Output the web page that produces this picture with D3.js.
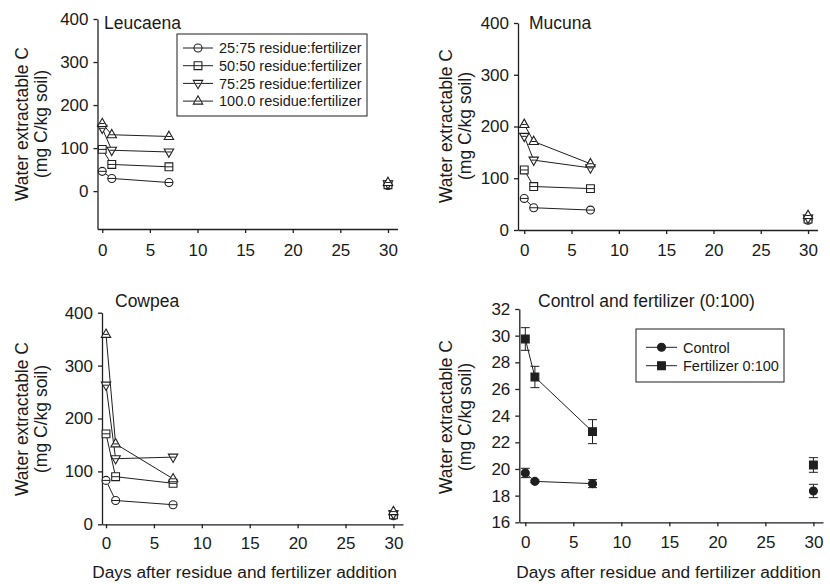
<!DOCTYPE html>
<html>
<head>
<meta charset="utf-8">
<script src="https://cdn.jsdelivr.net/npm/d3@7"></script>
<style>
  html, body { margin: 0; padding: 0; background: #fff; }
  svg text { font-family: "Liberation Sans", Arial, Helvetica, sans-serif; fill: #1a1a1a; }
</style>
</head>
<body>
<script>
// Sampling days
const days = [0, 1, 7, 30];
const dayTicks = [0, 5, 10, 15, 20, 25, 30];

// Residue:fertilizer treatments
const ratioLabels = [
  "25:75 residue:fertilizer",
  "50:50 residue:fertilizer",
  "75:25 residue:fertilizer",
  "100.0 residue:fertilizer"
];
const ratioSymbols = ["circle", "square", "triangleDown", "triangleUp"];

// Water extractable C (mg C/kg soil), Leucaena
const leucaena25 = [46, 29.5, 20, 13];
const leucaena50 = [97, 62, 56.5, 15];
const leucaena75 = [146, 95, 91, 17];
const leucaena100 = [157, 131, 127, 20];

// Mucuna
const mucuna25 = [61, 43, 38.5, 19];
const mucuna50 = [116, 84, 80, 21];
const mucuna75 = [181, 135, 120, 23];
const mucuna100 = [204, 171, 128, 28];

// Cowpea
const cowpea25 = [83, 45, 37, 16];
const cowpea50 = [171, 90, 77.5, 18];
const cowpea75 = [263, 124, 127, 20];
const cowpea100 = [359, 152, 86, 24];

// Control and fertilizer only (0:100), mean and standard error
const controlLabels = ["Control", "Fertilizer 0:100"];
const controlMean = [19.7, 19.07, 18.9, 18.35];
const controlErr = [0.35, 0.1, 0.3, 0.5];
const fertMean = [29.75, 26.9, 22.8, 20.3];
const fertErr = [0.85, 0.8, 0.9, 0.55];

const yTicksResidue = [0, 100, 200, 300, 400];
const yTicksControl = [16, 18, 20, 22, 24, 26, 28, 30, 32];

const INK = "#1f1f1f";

const svg = d3.select("body").append("svg")
  .attr("width", 830).attr("height", 584);

// Marker shapes, drawn around (0,0)
function symbolPath(kind) {
  switch (kind) {
    case "circle": return d3.symbol(d3.symbolCircle, 50)();
    case "square": return "M-3.9,-3.9H3.9V3.9H-3.9Z";
    case "triangleUp": return "M0,-5.3L4.7,3L-4.7,3Z";
    case "triangleDown": return "M0,5.3L4.7,-3L-4.7,-3Z";
  }
}

function drawMarker(g, kind, x, y, filled) {
  const m = g.append("g").attr("transform", `translate(${x},${y})`);
  m.append("path").attr("d", symbolPath(kind))
    .attr("fill", filled ? INK : "#fff")
    .attr("stroke", INK).attr("stroke-width", 1.1);
  if (!filled) {
    // hairline through the open symbol
    const w = kind === "circle" ? 3.9 : (kind === "square" ? 3.9 : 2.4);
    m.append("line").attr("x1", -w).attr("x2", w).attr("y1", 0).attr("y2", 0)
      .attr("stroke", INK).attr("stroke-width", 1);
  }
}

function drawPanel(cfg) {
  const g = svg.append("g");
  const x = d3.scaleLinear().domain(cfg.xDomain).range([cfg.left, cfg.right]);
  const y = d3.scaleLinear().domain(cfg.yDomain).range([cfg.bottom, cfg.top]);

  // axes
  const yAxis = d3.axisLeft(y).tickValues(cfg.yTicks).tickSize(4).tickSizeOuter(0).tickPadding(5);
  const xAxis = d3.axisBottom(x).tickValues(dayTicks).tickSize(4).tickSizeOuter(0).tickPadding(cfg.xPad);
  const ga = g.append("g").attr("transform", `translate(${cfg.left},0)`).call(yAxis);
  const gb = g.append("g").attr("transform", `translate(0,${cfg.bottom})`).call(xAxis);
  [ga, gb].forEach(a => {
    a.selectAll("path, line").attr("stroke", INK).attr("stroke-width", 1.3);
    a.selectAll("text").attr("font-size", "17px").attr("fill", "#1a1a1a")
      .style("font-family", '"Liberation Sans", Arial, sans-serif');
  });

  // panel title
  g.append("text").attr("x", cfg.titleX).attr("y", cfg.titleY)
    .attr("font-size", "17.5px").text(cfg.title);

  // y axis title
  const yl = g.append("text").attr("font-size", "17.5px").attr("text-anchor", "middle")
    .attr("transform", `translate(${cfg.ylabX},${cfg.ylabY}) rotate(-90)`);
  yl.append("tspan").attr("x", 0).attr("y", 0).text("Water extractable C");
  yl.append("tspan").attr("x", 0).attr("y", 19).text("(mg C/kg soil)");

  if (cfg.xTitle) {
    g.append("text").attr("x", cfg.xTitleX).attr("y", 578)
      .attr("text-anchor", "middle").attr("font-size", "17.3px")
      .text("Days after residue and fertilizer addition");
  }

  const line = d3.line().x((d, i) => x(days[i])).y(d => y(d));

  // series
  cfg.series.forEach(s => {
    // first three samplings are joined; day 30 stands alone
    g.append("path").attr("d", line(s.values.slice(0, 3)))
      .attr("fill", "none").attr("stroke", INK).attr("stroke-width", 1);
    if (s.err) {
      s.values.forEach((v, i) => {
        const cx = x(days[i]);
        const y1 = y(v + s.err[i]), y2 = y(v - s.err[i]);
        g.append("line").attr("x1", cx).attr("x2", cx).attr("y1", y1).attr("y2", y2)
          .attr("stroke", INK).attr("stroke-width", 1);
        [y1, y2].forEach(yy => g.append("line")
          .attr("x1", cx - 4.5).attr("x2", cx + 4.5).attr("y1", yy).attr("y2", yy)
          .attr("stroke", INK).attr("stroke-width", 1));
      });
    }
  });
  cfg.series.forEach(s => {
    s.values.forEach((v, i) => drawMarker(g, s.symbol, x(days[i]), y(v), s.filled));
  });

  // legend
  if (cfg.legend) {
    const L = cfg.legend;
    g.append("rect").attr("x", L.x0).attr("y", L.y0)
      .attr("width", L.x1 - L.x0).attr("height", L.y1 - L.y0)
      .attr("fill", "#fff").attr("stroke", INK).attr("stroke-width", 1);
    L.items.forEach((it, i) => {
      const yy = L.rowY + i * L.rowH;
      g.append("line").attr("x1", L.lineX0).attr("x2", L.lineX1).attr("y1", yy).attr("y2", yy)
        .attr("stroke", INK).attr("stroke-width", 1);
      drawMarker(g, it.symbol, (L.lineX0 + L.lineX1) / 2, yy, it.filled);
      g.append("text").attr("x", L.textX).attr("y", yy).attr("dy", "0.36em")
        .attr("font-size", "14.5px").text(it.label);
    });
  }
}

function residueSeries(a, b, c, d) {
  return [a, b, c, d].map((v, i) => ({ values: v, symbol: ratioSymbols[i], filled: false }));
}
const residueLegendItems = ratioLabels.map((l, i) => ({ label: l, symbol: ratioSymbols[i], filled: false }));

// Leucaena
drawPanel({
  left: 97.5, right: 397.5, top: 19, bottom: 229,
  xDomain: [-0.5, 31], yDomain: [-88, 400], yTicks: yTicksResidue, xPad: 11,
  title: "Leucaena", titleX: 104, titleY: 29,
  ylabX: 28, ylabY: 124,
  series: residueSeries(leucaena25, leucaena50, leucaena75, leucaena100),
  legend: { x0: 177, y0: 34, x1: 367, y1: 116, rowY: 48, rowH: 17.7,
            lineX0: 183, lineX1: 213, textX: 219, items: residueLegendItems }
});

// Mucuna
drawPanel({
  left: 518, right: 817.5, top: 23, bottom: 230,
  xDomain: [-0.66, 31], yDomain: [0, 400], yTicks: yTicksResidue, xPad: 10,
  title: "Mucuna", titleX: 529, titleY: 29,
  ylabX: 452, ylabY: 126,
  series: residueSeries(mucuna25, mucuna50, mucuna75, mucuna100)
});

// Cowpea
drawPanel({
  left: 102, right: 403, top: 312.7, bottom: 524.3,
  xDomain: [-0.42, 31], yDomain: [0, 400], yTicks: yTicksResidue, xPad: 9,
  title: "Cowpea", titleX: 115, titleY: 307,
  ylabX: 28, ylabY: 419,
  xTitle: true, xTitleX: 244.5,
  series: residueSeries(cowpea25, cowpea50, cowpea75, cowpea100)
});

// Control and fertilizer only
drawPanel({
  left: 519.3, right: 823, top: 309, bottom: 522.3,
  xDomain: [-0.625, 31], yDomain: [16, 32], yTicks: yTicksControl, xPad: 10,
  title: "Control and fertilizer (0:100)", titleX: 538, titleY: 307,
  ylabX: 452, ylabY: 417,
  xTitle: true, xTitleX: 668.5,
  series: [
    { values: controlMean, err: controlErr, symbol: "circle", filled: true },
    { values: fertMean, err: fertErr, symbol: "square", filled: true }
  ],
  legend: { x0: 636, y0: 329, x1: 784, y1: 382, rowY: 347.3, rowH: 18.4,
            lineX0: 646, lineX1: 677, textX: 683,
            items: controlLabels.map((l, i) => ({ label: l, symbol: i ? "square" : "circle", filled: true })) }
});
</script>
</body>
</html>
